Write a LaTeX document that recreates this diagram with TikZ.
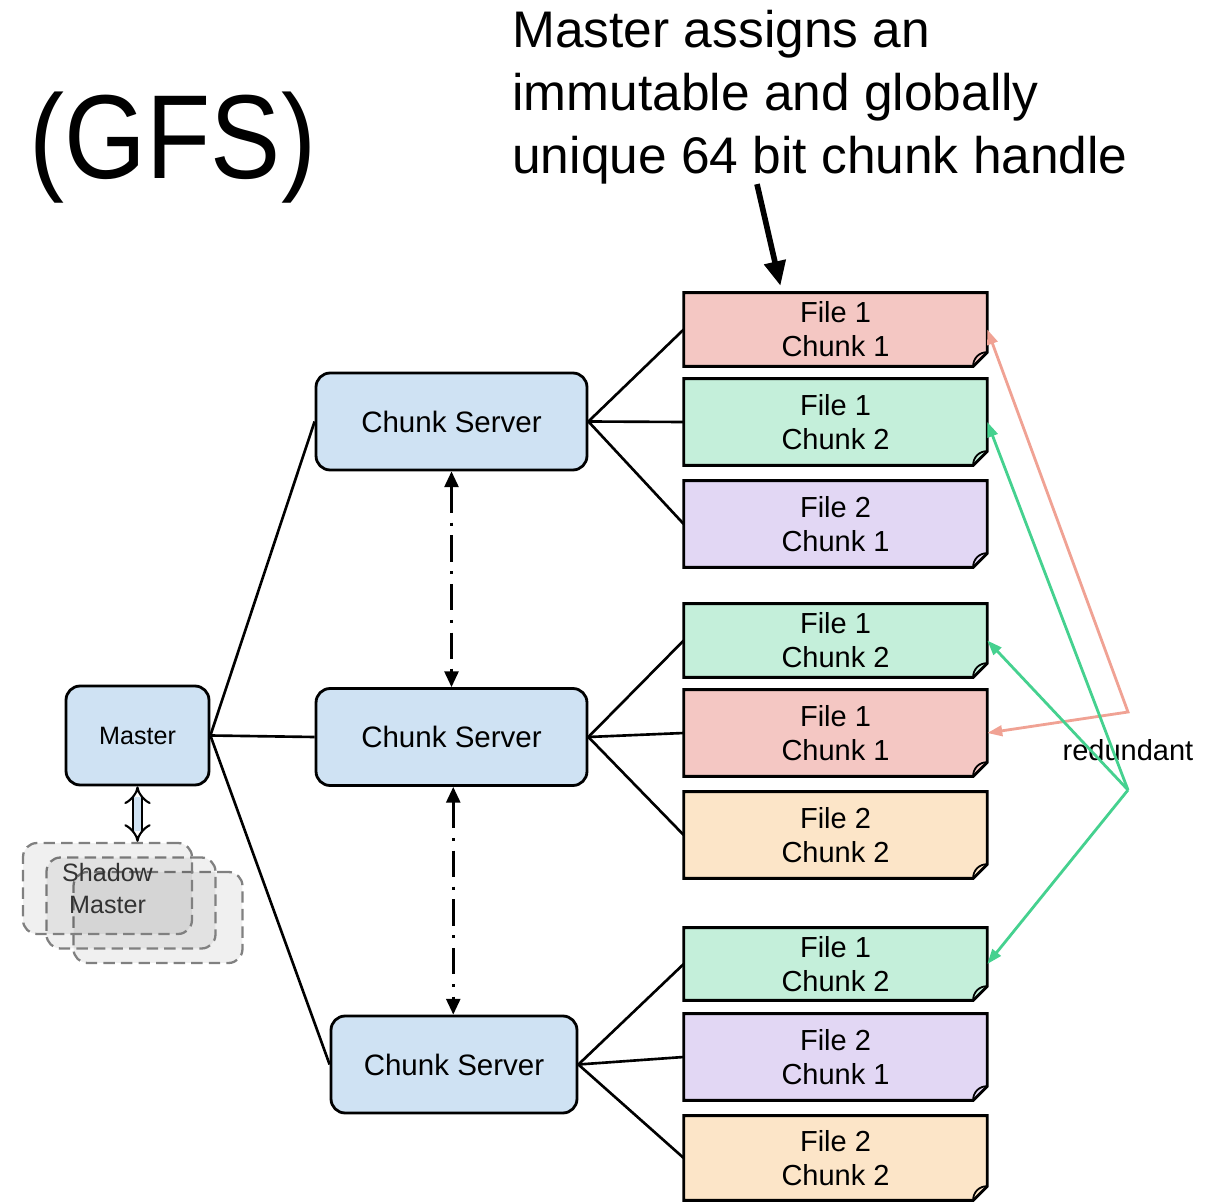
\documentclass[tikz,border=0pt]{standalone}
\usepackage{fontspec}
\setmainfont{Liberation Sans}
\usetikzlibrary{arrows.meta,backgrounds}

\definecolor{serverblue}{HTML}{CFE2F3}
\definecolor{chunkred}{HTML}{F4C7C3}
\definecolor{chunkgreen}{HTML}{C4EFDA}
\definecolor{chunkpurple}{HTML}{E2D7F4}
\definecolor{chunkorange}{HTML}{FCE5C8}
\definecolor{copyred}{HTML}{F0A294}
\definecolor{copygreen}{HTML}{45D18F}

\begin{document}
\begin{tikzpicture}[x = 0.02cm, y = -0.02cm,
    server/.style = {draw, fill = serverblue, rounded corners = 8pt, line width = 1.6pt,
        minimum width = 5.42cm, minimum height = 1.94cm, font = \fontsize{16.8}{20}\selectfont},
    chunk/.style = {inner sep = 0pt, minimum width = 6.06cm, align = center,
        font = \fontsize{16.5}{19.3}\selectfont},
    chunk edge/.style = {draw, line width = 1.6pt, line join = miter},
    shadowbox/.style = {draw = black!50, dash pattern = on 6.5pt off 3.5pt, line width = 1.3pt,
        fill = black, fill opacity = 0.06, draw opacity = 1, rounded corners = 8pt,
        minimum width = 3.38cm, minimum height = 1.82cm},
    link/.style = {line width = 1.5pt},
    sync/.style = {line width = 1.5pt, dash pattern = on 15pt off 5.5pt on 1.7pt off 5.5pt,
        {Triangle[length = 9pt, width = 8pt]}-{Triangle[length = 9pt, width = 8pt]}},
    copy/.style = {line width = 1.6pt,
        {Triangle[length = 8.5pt, width = 6pt]}-{Triangle[length = 8.5pt, width = 6pt]}},
    pointer/.style = {line width = 3.2pt, -{Triangle[length = 14pt, width = 12pt]}}]

    \useasboundingbox (0,0) rectangle (1214,1202);

    % titles
    \node[font = \fontsize{68}{70}\selectfont, xscale = 0.88] (gfs) at (173,148) {(GFS)};
    \node[anchor = north west, inner sep = 0pt, align = left,
        font = \fontsize{29.3}{35.7}\selectfont] (title) at (512,10)
        {Master assigns an\\immutable and globally\\unique 64 bit chunk handle};

    % master and shadows
    \node[server, minimum width = 2.86cm, minimum height = 1.98cm,
        font = \fontsize{14.3}{17}\selectfont] (master) at (137.5,735.5) {Master};
    \node[shadowbox] (sh3) at (158,917.5) {};
    \node[shadowbox] (sh2) at (131,903) {};
    \node[shadowbox, text opacity = 1, align = center, text = black!80,
        font = \fontsize{14.3}{18.5}\selectfont] (sh1) at (107.5,888.5) {Shadow\\Master};
    \draw[line width = 1.2pt, double = serverblue, double distance = 4pt, {Implies}-{Implies}]
        (master.south) -- (master.south |- sh1.north);

    % chunk servers
    \node[server] (cs1) at (451.5,421.5) {Chunk Server};
    \node[server] (cs2) at (451.5,737) {Chunk Server};
    \node[server, minimum width = 4.92cm] (cs3) at (454,1064.5) {Chunk Server};

    % chunks
    \foreach \n/\y/\h/\col/\f/\k in {c1/329.5/73/chunkred/1/1, c2/422/86/chunkgreen/1/2,
        c3/524/86/chunkpurple/2/1, c4/640.5/73/chunkgreen/1/2, c5/733/86/chunkred/1/1,
        c6/835/86/chunkorange/2/2, c7/964/72/chunkgreen/1/2, c8/1057/86/chunkpurple/2/1,
        c9/1158/84/chunkorange/2/2}{
        \node[chunk, minimum height = \h*0.02cm] (\n) at (835.5,\y) {File \f\\Chunk \k};
        \begin{scope}[on background layer]
            \filldraw[chunk edge, fill = \col] (\n.north west) -- (\n.north east)
                -- ([yshift = 8pt]\n.south east) -- ([xshift = -8pt]\n.south east)
                -- (\n.south west) -- cycle;
            \draw[line width = 1pt] ([yshift = 8pt]\n.south east)
                to[bend right = 50] ([xshift = -8pt]\n.south east);
        \end{scope}
    }

    % links
    \foreach \c in {cs1, cs2, cs3}
        \draw[link] (master.east) -- (\c.west);
    \foreach \b in {c1, c2, c3}
        \draw[link] (cs1.east) -- (\b.west);
    \foreach \b in {c4, c5, c6}
        \draw[link] (cs2.east) -- (\b.west);
    \foreach \b in {c7, c8, c9}
        \draw[link] (cs3.east) -- (\b.west);
    \draw[sync] (cs1.south) -- (cs2.north);
    \draw[sync] ([xshift = 1pt]cs2.south) -- ([xshift = 1pt]cs2.south |- cs3.north);

    % replicas
    \coordinate (redjoin) at (1128,712);
    \coordinate (greenjoin) at (1128,790);
    \node[font = \fontsize{16.5}{19}\selectfont] (redundant) at (1128,750) {redundant};
    \draw[copy, draw = copyred] (c1.east) -- (redjoin) -- (c5.east);
    \foreach \b in {c2, c4, c7}
        \draw[copy, draw = copygreen, {Triangle[length = 8.5pt, width = 6pt]}-]
            (\b.east) -- (greenjoin);

    \draw[pointer, shorten > = 4pt] (title.south -| 757,0) -- (c1.north -| 782,0);
\end{tikzpicture}
\end{document}
